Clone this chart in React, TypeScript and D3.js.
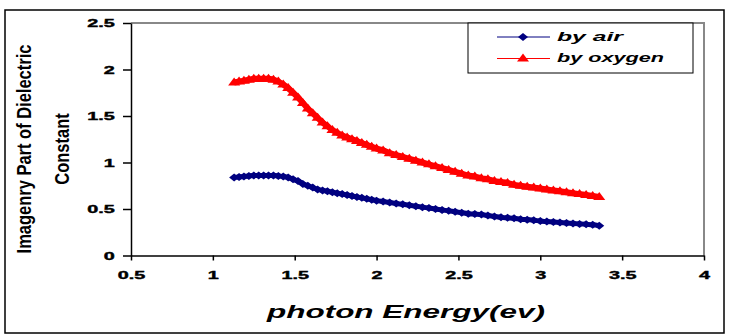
import React, { useEffect, useRef } from 'react';
import * as d3 from 'd3';

// photon energy (eV) of each measured point
const energy = [
  1.13, 1.16, 1.19, 1.22, 1.25, 1.28, 1.31, 1.34, 1.37, 1.40,
  1.43, 1.46, 1.49, 1.52, 1.55, 1.58, 1.61, 1.64, 1.67, 1.70,
  1.73, 1.76, 1.79, 1.82, 1.85, 1.88, 1.91, 1.94, 1.97, 2.00,
  2.04, 2.08, 2.12, 2.16, 2.20, 2.24, 2.28, 2.32, 2.36, 2.40,
  2.44, 2.48, 2.52, 2.56, 2.60, 2.64, 2.68, 2.72, 2.76, 2.80,
  2.84, 2.88, 2.92, 2.96, 3.00, 3.04, 3.08, 3.12, 3.16, 3.20,
  3.24, 3.28, 3.32, 3.36
];

// imaginary part of the dielectric constant, annealed in air
const byAir = [
  0.84, 0.845, 0.85, 0.855, 0.86, 0.86, 0.86, 0.86, 0.86, 0.855,
  0.85, 0.84, 0.82, 0.80, 0.77, 0.75, 0.73, 0.71, 0.70, 0.69,
  0.68, 0.67, 0.66, 0.65, 0.64, 0.63, 0.62, 0.61, 0.60, 0.59,
  0.58, 0.57, 0.56, 0.55, 0.54, 0.53, 0.52, 0.51, 0.50, 0.49,
  0.48, 0.47, 0.46, 0.45, 0.445, 0.44, 0.43, 0.42, 0.41, 0.405,
  0.40, 0.39, 0.385, 0.38, 0.37, 0.365, 0.36, 0.355, 0.35, 0.345,
  0.34, 0.335, 0.33, 0.32
];

// imaginary part of the dielectric constant, annealed in oxygen
const byOxygen = [
  1.86, 1.87, 1.88, 1.89, 1.90, 1.90, 1.90, 1.90, 1.89, 1.87,
  1.84, 1.80, 1.75, 1.70, 1.64, 1.58, 1.53, 1.48, 1.43, 1.39,
  1.35, 1.32, 1.29, 1.27, 1.25, 1.23, 1.21, 1.19, 1.17, 1.15,
  1.13, 1.10, 1.08, 1.06, 1.04, 1.02, 1.00, 0.98, 0.96, 0.94,
  0.92, 0.90, 0.88, 0.86, 0.85, 0.83, 0.82, 0.80, 0.79, 0.78,
  0.76, 0.75, 0.74, 0.73, 0.72, 0.71, 0.70, 0.69, 0.68, 0.67,
  0.66, 0.65, 0.64, 0.63
];

const xTicks = [0.5, 1, 1.5, 2, 2.5, 3, 3.5, 4];
const yTicks = [0, 0.5, 1, 1.5, 2, 2.5];
const seriesNames = ['by air', 'by oxygen'];

const FONT = '"Liberation Sans", Arial, sans-serif';
const diamond = 'M0,-4L5,0L0,4L-5,0Z';
const triangle = 'M0,-5L6,3L-6,3Z';

export default function App() {
  const ref = useRef<SVGSVGElement>(null);

  useEffect(() => {
    const svg = d3.select(ref.current);
    svg.selectAll('*').remove();

    const x = d3.scaleLinear().domain([0.5, 4]).range([131, 704]);
    const y = d3.scaleLinear().domain([0, 2.5]).range([255.5, 23]);

    // chart frame
    svg.append('rect')
      .attr('x', 5).attr('y', 10).attr('width', 719).attr('height', 323)
      .attr('fill', '#fff').attr('stroke', '#000').attr('stroke-width', 1.5);

    // grey top / right edges of the plot area
    svg.append('path')
      .attr('d', `M${x(0.5)},${y(2.5)}H${x(4)}V${y(0)}`)
      .attr('fill', 'none').attr('stroke', '#888').attr('stroke-width', 2);

    // X axis
    const gx = svg.append('g')
      .attr('transform', `translate(0,${y(0)})`)
      .call(d3.axisBottom(x).tickValues(xTicks).tickSize(5).tickSizeOuter(0).tickFormat(d3.format('')));
    gx.selectAll('line').attr('stroke', '#000').attr('stroke-width', 1.5);
    gx.select('.domain').attr('stroke', '#000').attr('stroke-width', 1.5);
    gx.selectAll('text')
      .attr('y', 16)
      .attr('transform', 'scale(1.8,1)')
      .attr('font-family', FONT).attr('font-size', 11).attr('font-weight', 'bold')
      .attr('fill', '#000').attr('stroke', '#000').attr('stroke-width', 0.4);

    // Y axis
    const gy = svg.append('g')
      .attr('transform', `translate(${x(0.5)},0)`)
      .call(d3.axisLeft(y).tickValues(yTicks).tickSize(8).tickSizeOuter(0).tickFormat(d3.format('')));
    gy.selectAll('line').attr('stroke', '#000').attr('stroke-width', 1.5);
    gy.select('.domain').attr('stroke', '#000').attr('stroke-width', 1.5);
    gy.selectAll('text')
      .attr('x', -9)
      .attr('transform', 'scale(1.8,1)')
      .attr('font-family', FONT).attr('font-size', 11).attr('font-weight', 'bold')
      .attr('fill', '#000').attr('stroke', '#000').attr('stroke-width', 0.4);

    // axis titles
    svg.append('text')
      .attr('x', 406).attr('y', 318)
      .attr('text-anchor', 'middle')
      .attr('textLength', 278).attr('lengthAdjust', 'spacingAndGlyphs')
      .attr('font-family', FONT).attr('font-size', 18)
      .attr('font-weight', 'bold').attr('font-style', 'italic')
      .text('photon Energy(ev)');

    // rotated title, glyphs stretched across the line so it reads tall and narrow
    const yTitle = [
      { text: 'Imagenry Part of Dielectric', cx: 26, dy: 4.2 },
      { text: 'Constant', cx: 62, dy: 5.9 }
    ];
    yTitle.forEach(t => {
      svg.append('text')
        .attr('transform', `translate(${t.cx},149) rotate(-90) scale(1,1.25)`)
        .attr('y', t.dy)
        .attr('text-anchor', 'middle')
        .attr('font-family', FONT).attr('font-size', 16.5).attr('font-weight', 'bold')
        .text(t.text);
    });

    // series: a heavy line under dense markers
    const series = [
      { name: seriesNames[0], values: byAir, color: '#000080', marker: diamond, width: 5 },
      { name: seriesNames[1], values: byOxygen, color: '#ff0000', marker: triangle, width: 6 }
    ];

    const line = d3.line<number>()
      .x((d, i) => x(energy[i]))
      .y(d => y(d))
      .curve(d3.curveMonotoneX);

    series.forEach(s => {
      svg.append('path')
        .attr('d', line(s.values))
        .attr('fill', 'none').attr('stroke', s.color).attr('stroke-width', s.width);
      svg.append('g')
        .selectAll('path')
        .data(s.values)
        .enter()
        .append('path')
        .attr('d', s.marker)
        .attr('transform', (d, i) => `translate(${x(energy[i])},${y(d)})`)
        .attr('fill', s.color);
    });

    // legend
    const legend = svg.append('g');
    legend.append('rect')
      .attr('x', 468).attr('y', 23).attr('width', 225).attr('height', 50)
      .attr('fill', '#fff').attr('stroke', '#000').attr('stroke-width', 1);
    const rows = [
      { ly: 37, ty: 41, len: 66 },
      { ly: 58.5, ty: 62, len: 107 }
    ];
    series.forEach((s, i) => {
      const r = rows[i];
      legend.append('line')
        .attr('x1', 497).attr('x2', 550).attr('y1', r.ly).attr('y2', r.ly)
        .attr('stroke', s.color).attr('stroke-width', 1);
      legend.append('path')
        .attr('d', s.marker)
        .attr('transform', `translate(523,${r.ly})`)
        .attr('fill', s.color);
      legend.append('text')
        .attr('x', 557).attr('y', r.ty)
        .attr('textLength', r.len).attr('lengthAdjust', 'spacingAndGlyphs')
        .attr('font-family', FONT).attr('font-size', 12)
        .attr('font-weight', 'bold').attr('font-style', 'italic')
        .text(s.name);
    });
  }, []);

  return (
    <svg
      ref={ref}
      width={729}
      height={336}
      style={{ position: 'absolute', left: 0, top: 0, background: '#fff' }}
    />
  );
}
